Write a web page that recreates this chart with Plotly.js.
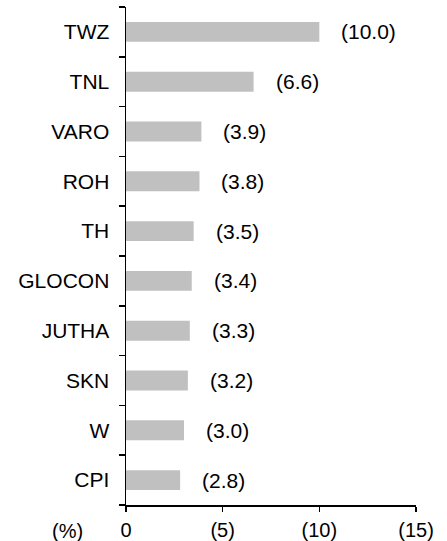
<!DOCTYPE html>
<html>
<head>
<meta charset="utf-8">
<script src="https://cdn.plot.ly/plotly-3.0.1.min.js"></script>
<style>
  html, body { margin: 0; padding: 0; background: #fff; }
  #plot { width: 447px; height: 541px; }
</style>
</head>
<body>
<div id="plot"></div>
<script>
var categories = ['TWZ', 'TNL', 'VARO', 'ROH', 'TH', 'GLOCON', 'JUTHA', 'SKN', 'W', 'CPI'];
var values = [10.0, 6.6, 3.9, 3.8, 3.5, 3.4, 3.3, 3.2, 3.0, 2.8];
var tickVals = [0, 5, 10, 15];
var tickText = ['0', '(5)', '(10)', '(15)'];
var unitLabel = '(%)';

var fontFamily = 'Arial, "Liberation Sans", sans-serif';

var bars = {
    type: 'bar',
    orientation: 'h',
    x: values,
    y: categories,
    width: 0.4,
    marker: { color: '#c0c0c0' },
    hoverinfo: 'none'
};

// tick marks between categories, done with an overlaid linear axis
var boundaries = categories.map(function (c, i) { return i - 0.5; }).concat([categories.length - 0.5]);
var tickHolder = {
    type: 'scatter',
    x: [null],
    y: [null],
    yaxis: 'y2',
    hoverinfo: 'none',
    showlegend: false
};

// value labels in brackets, placed just past the end of each bar
var labels = values.map(function (v, i) {
    return {
        x: v,
        y: categories[i],
        xref: 'x',
        yref: 'y',
        text: '(' + v.toFixed(1) + ')',
        showarrow: false,
        xanchor: 'left',
        xshift: 20,
        font: { family: fontFamily, size: 21, color: '#000' }
    };
});

labels.push({
    x: -0.203,
    y: -0.052,
    xref: 'paper',
    yref: 'paper',
    text: unitLabel,
    showarrow: false,
    xanchor: 'center',
    yanchor: 'middle',
    font: { family: fontFamily, size: 20, color: '#000' }
});

var layout = {
    width: 447,
    height: 541,
    margin: { l: 126, r: 31, t: 7, b: 36 },
    paper_bgcolor: '#fff',
    plot_bgcolor: '#fff',
    showlegend: false,
    font: { family: fontFamily, size: 21, color: '#000' },
    xaxis: {
        range: [0, 15],
        tickvals: tickVals,
        ticktext: tickText,
        tickfont: { size: 20 },
        showgrid: false,
        zeroline: false,
        showline: true,
        linecolor: '#000',
        linewidth: 1.5,
        ticks: 'outside',
        ticklen: 5,
        tickwidth: 1.5,
        tickcolor: '#000',
        ticklabelstandoff: 1,
        fixedrange: true
    },
    yaxis: {
        type: 'category',
        categoryorder: 'array',
        categoryarray: categories.slice().reverse(),
        range: [-0.5, categories.length - 0.5],
        showgrid: false,
        zeroline: false,
        showline: true,
        linecolor: '#000',
        linewidth: 1.5,
        ticks: '',
        ticklabelstandoff: 11,
        fixedrange: true
    },
    yaxis2: {
        overlaying: 'y',
        side: 'left',
        range: [-0.5, categories.length - 0.5],
        tickvals: boundaries,
        showticklabels: false,
        showgrid: false,
        zeroline: false,
        showline: false,
        ticks: 'outside',
        ticklen: 6,
        tickwidth: 1.5,
        tickcolor: '#000',
        fixedrange: true
    },
    annotations: labels
};

Plotly.newPlot('plot', [bars, tickHolder], layout, { displayModeBar: false, staticPlot: true });
</script>
</body>
</html>
